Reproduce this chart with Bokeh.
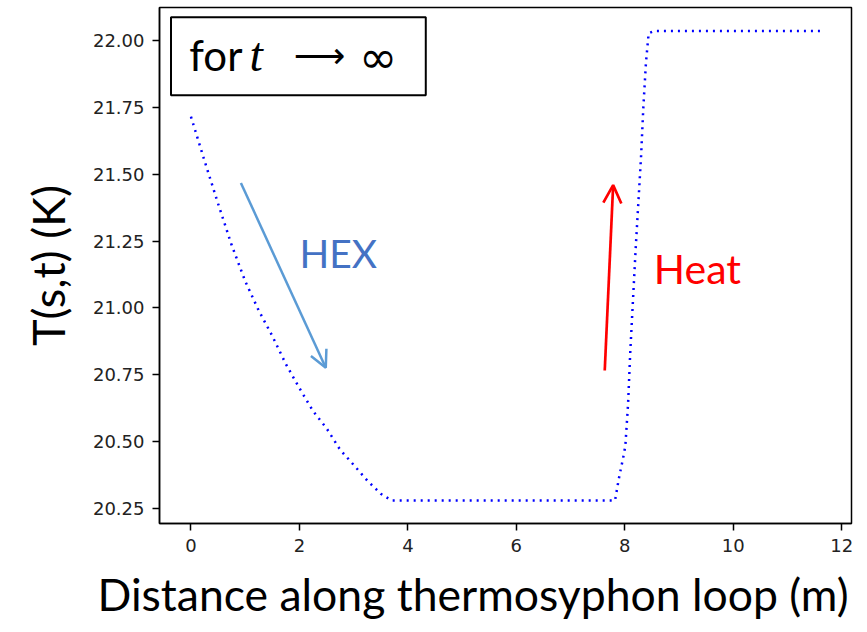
from bokeh.plotting import figure
from bokeh.models import Range1d, FixedTicker, BoxAnnotation, Label, Arrow, OpenHead, Title
from bokeh.embed import file_html
from bokeh.resources import INLINE

# ---- data ----
s_vals = [0.0, 0.25, 0.5, 0.75, 1.0, 1.25, 1.5, 1.75, 2.0, 2.25, 2.5, 2.75, 3.0, 3.25,
          3.5, 3.7, 7.82, 7.89, 7.97, 8.01, 8.06, 8.10, 8.15, 8.20, 8.25, 8.30, 8.34,
          8.39, 8.44, 8.54, 11.6]
T_vals = [21.715, 21.55, 21.39, 21.235, 21.10, 20.99, 20.895, 20.79, 20.70, 20.615,
          20.55, 20.47, 20.413, 20.355, 20.305, 20.28, 20.28, 20.362, 20.44, 20.484,
          20.64, 20.833, 21.027, 21.22, 21.394, 21.568, 21.743, 21.917, 22.027, 22.035,
          22.035]

x_ticks = [0, 2, 4, 6, 8, 10, 12]
y_ticks = [20.25, 20.50, 20.75, 21.00, 21.25, 21.50, 21.75, 22.00]
y_tick_labels = ["20.25", "20.50", "20.75", "21.00", "21.25", "21.50", "21.75", "22.00"]

x_title = "Distance along thermosyphon loop (m)"
y_title = "T(s,t) (K)"

p = figure(width=867, height=632, output_backend="svg", toolbar_location=None,
           x_range=Range1d(-0.58, 12.18), y_range=Range1d(20.194, 22.123),
           min_border_left=159, min_border_right=16, min_border_top=7, min_border_bottom=109)
p.background_fill_color = "white"
p.border_fill_color = "white"
p.outline_line_color = "black"
p.outline_line_width = 1.5
p.grid.visible = False

p.line(s_vals, T_vals, line_color="#0000ff", line_width=2.5, line_dash="2 5")

for ax in (p.xaxis[0], p.yaxis[0]):
    ax.axis_line_color = "black"
    ax.axis_line_width = 1.5
    ax.major_tick_line_color = "black"
    ax.major_tick_line_width = 1.5
    ax.major_tick_out = 7
    ax.major_tick_in = 0
    ax.minor_tick_line_color = None
    ax.major_label_text_font = "DejaVu Sans"
    ax.major_label_text_font_size = "18px"
    ax.major_label_text_color = "#222222"
    ax.major_label_standoff = 8

p.xaxis.ticker = FixedTicker(ticks=x_ticks)
p.yaxis.ticker = FixedTicker(ticks=y_ticks)
p.yaxis.major_label_overrides = {t: l for t, l in zip(y_ticks, y_tick_labels)}

p.yaxis.axis_label = y_title
p.yaxis.axis_label_text_font = "Lato"
p.yaxis.axis_label_text_font_size = "45px"
p.yaxis.axis_label_text_font_style = "normal"
p.yaxis.axis_label_text_color = "black"
p.yaxis.axis_label_standoff = 15

p.add_layout(Title(text=x_title, align="left", offset=-62, standoff=21,
                   text_font="Lato", text_font_size="44.5px", text_font_style="normal",
                   text_color="black"), "below")

# "for t -> inf" box
p.add_layout(BoxAnnotation(left=-0.368, right=4.33, top=22.087, bottom=21.795,
                           fill_color="white", fill_alpha=1.0, line_color="black",
                           line_alpha=1.0, line_width=2))
p.add_layout(Label(x=-0.03, y=21.946, text="for", text_font="Lato", text_font_size="42px",
                   text_color="black", text_align="left", text_baseline="alphabetic"))
p.add_layout(Label(x=1.08, y=21.946, text="t", text_font="Liberation Serif", text_font_size="48px",
                   text_font_style="italic", text_color="black", text_align="left",
                   text_baseline="alphabetic"))
p.add_layout(Label(x=1.897, y=21.945, text="\u27f6", text_font="DejaVu Sans", text_font_size="36px",
                   text_color="black", text_align="left", text_baseline="middle"))
p.add_layout(Label(x=3.10, y=21.938, text="\u221e", text_font="DejaVu Sans", text_font_size="46px",
                   text_color="black", text_align="left", text_baseline="middle"))

# HEX annotation
p.add_layout(Arrow(end=OpenHead(size=17, line_color="#5b9bd5", line_width=2.5),
                   x_start=0.921, y_start=21.467, x_end=2.486, y_end=20.776,
                   line_color="#5b9bd5", line_width=2.5))
p.add_layout(Label(x=2.0, y=21.204, text="HEX", text_font="Lato", text_font_size="39px",
                   text_color="#4472c4", text_align="left", text_baseline="alphabetic"))

# Heat annotation
p.add_layout(Arrow(end=OpenHead(size=18, line_color="#ff0000", line_width=2.7),
                   x_start=7.63, y_start=20.766, x_end=7.785, y_end=21.459,
                   line_color="#ff0000", line_width=2.7))
p.add_layout(Label(x=8.535, y=21.149, text="Heat", text_font="Lato", text_font_size="41px",
                   text_color="#ff0000", text_align="left", text_baseline="alphabetic"))

open("out.html", "w").write(file_html(p, INLINE))
